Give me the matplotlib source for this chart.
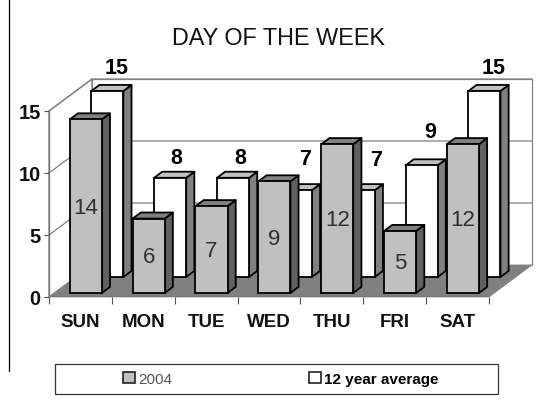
import matplotlib
matplotlib.use("Agg")
import matplotlib.pyplot as plt
from matplotlib.lines import Line2D
from matplotlib.patches import Patch, Polygon, Rectangle

days = ["SUN", "MON", "TUE", "WED", "THU", "FRI", "SAT"]
values_2004 = [14, 6, 7, 9, 12, 5, 12]
values_avg = [15, 8, 8, 7, 7, 9, 15]
y_ticks = [0, 5, 10, 15]
series_names = ["2004", "12 year average"]
title = "DAY OF THE WEEK"

# layout, in pixels of the 538x402 canvas
W, H = 538, 402
PX_LEFT, PX_RIGHT, PX_FLOOR, PX_TOP15 = 49, 489, 298, 112
WALL_DX, WALL_DY = 43, 32
avg_label_offsets = [(9, 23), (6, 20), (7, 20), (9, 32), (17, 31), (9, 34), (9, 23)]

plt.rcParams["font.family"] = ["Liberation Sans", "DejaVu Sans"]
fig = plt.figure(figsize=(W / 100, H / 100), dpi=100, facecolor="white")
ax = fig.add_axes([PX_LEFT / W, 1 - PX_FLOOR / H,
                   (PX_RIGHT - PX_LEFT) / W, (PX_FLOOR - PX_TOP15) / H])
ax.set_xlim(0, len(days))
ax.set_ylim(0, 15)
ax.patch.set_visible(False)

sx = (PX_RIGHT - PX_LEFT) / len(days)   # px per category
sy = (PX_FLOOR - PX_TOP15) / 15         # px per value unit
wx, wy = WALL_DX / sx, WALL_DY / sy     # wall depth in data units


def poly(pts, face, edge, lw, z):
    ax.add_patch(Polygon(pts, closed=True, facecolor=face, edgecolor=edge,
                         linewidth=lw, zorder=z, clip_on=False, joinstyle="round"))


# walls and floor
n = len(days)
poly([(0, 0), (wx, wy), (wx, 15 + wy), (0, 15)], "white", "#808080", 0.9, 1)
poly([(wx, wy), (n + wx, wy), (n + wx, 15 + wy), (wx, 15 + wy)], "white", "#808080", 0.9, 1)
for t in y_ticks[1:]:
    ax.plot([0, wx, n + wx], [t, t + wy, t + wy], color="#808080", lw=0.9, zorder=1.5,
            clip_on=False)
poly([(0, 0), (n, 0), (n + wx, wy), (wx, wy)], "#808080", "#808080", 0.5, 2)


def bars(values, depth, front, top, side, z):
    w = 0.51
    bd = 0.19
    for i, v in enumerate(values):
        x0 = i + 0.5 - w / 2 + depth * wx
        y0 = depth * wy
        ddx, ddy = bd * wx, bd * wy
        poly([(x0 + w, y0), (x0 + w + ddx, y0 + ddy), (x0 + w + ddx, y0 + v + ddy),
              (x0 + w, y0 + v)], side, "black", 1.3, z)
        poly([(x0, y0 + v), (x0 + ddx, y0 + v + ddy), (x0 + w + ddx, y0 + v + ddy),
              (x0 + w, y0 + v)], top, "black", 1.3, z)
        ax.bar(x0, v, width=w, bottom=y0, align="edge", facecolor=front, edgecolor="black",
               linewidth=1.3, zorder=z, clip_on=False)


bars(values_avg, 0.625, "white", "#C0C0C0", "#808080", 3)
bars(values_2004, 0.125, "#C0C0C0", "#808080", "#606060", 5)

# value labels
for i, v in enumerate(values_2004):
    ax.text(i + 0.5 + 0.125 * wx, 0.125 * wy + v / 2 - 1 / sy, str(v), ha="center", va="center",
            fontsize=16, color="#303030", zorder=8)
for i, v in enumerate(values_avg):
    ox, oy = avg_label_offsets[i]
    ax.text(i + 0.5 + 0.625 * wx + ox / sx, 0.625 * wy + v + oy / sy, str(v), ha="center",
            va="center", fontsize=15.5, fontweight="bold", color="black", zorder=8)

# axes
for s in ["top", "right", "bottom"]:
    ax.spines[s].set_visible(False)
ax.spines["left"].set_color("#707070")
ax.spines["left"].set_linewidth(0.9)
ax.spines["left"].set_zorder(1.6)
ax.axhline(0, color="#404040", lw=0.9, zorder=2.5)
ax.set_yticks(y_ticks)
ax.set_yticklabels([str(t) for t in y_ticks], fontsize=14.5, fontweight="bold", color="#111111")
ax.tick_params(axis="y", length=3.5, width=0.8, color="#505050", pad=2.5)
ax.set_xticks(range(n + 1))
ax.set_xticklabels([])
ax.tick_params(axis="x", which="major", length=5, width=0.8, color="#505050")
ax.set_xticks([i + 0.5 for i in range(n)], minor=True)
ax.set_xticklabels(days, minor=True, fontsize=13.5, fontweight="bold", color="#111111")
ax.tick_params(axis="x", which="minor", length=0, pad=11.2)

fig.text(278 / W, 1 - 38.5 / H, title, ha="center", va="center", fontsize=16.8, color="#111111")

# left rule
fig.add_artist(Line2D([8.5 / W, 8.5 / W], [1, 1 - 372 / H], color="black", lw=0.9))

# legend
fig.add_artist(Rectangle((55 / W, 1 - 395 / H), (498 - 55) / W, 30 / H, facecolor="white",
                         edgecolor="#333333", lw=0.9, transform=fig.transFigure))
handles = [Patch(facecolor="#C0C0C0", edgecolor="#222222", linewidth=1.2),
           Patch(facecolor="white", edgecolor="#222222", linewidth=1.2)]
leg = fig.legend(handles, series_names, loc="center left", ncol=2, frameon=False,
                 bbox_to_anchor=(123 / W, 1 - 380 / H), borderaxespad=0, borderpad=0,
                 handlelength=0.78, handleheight=0.72, handletextpad=0.25,
                 columnspacing=8.9, fontsize=11)
leg.get_texts()[0].set_color("#555555")
leg.get_texts()[1].set_fontweight("bold")
leg.set_zorder(10)

fig.savefig("out.png", dpi=100, facecolor="white")
